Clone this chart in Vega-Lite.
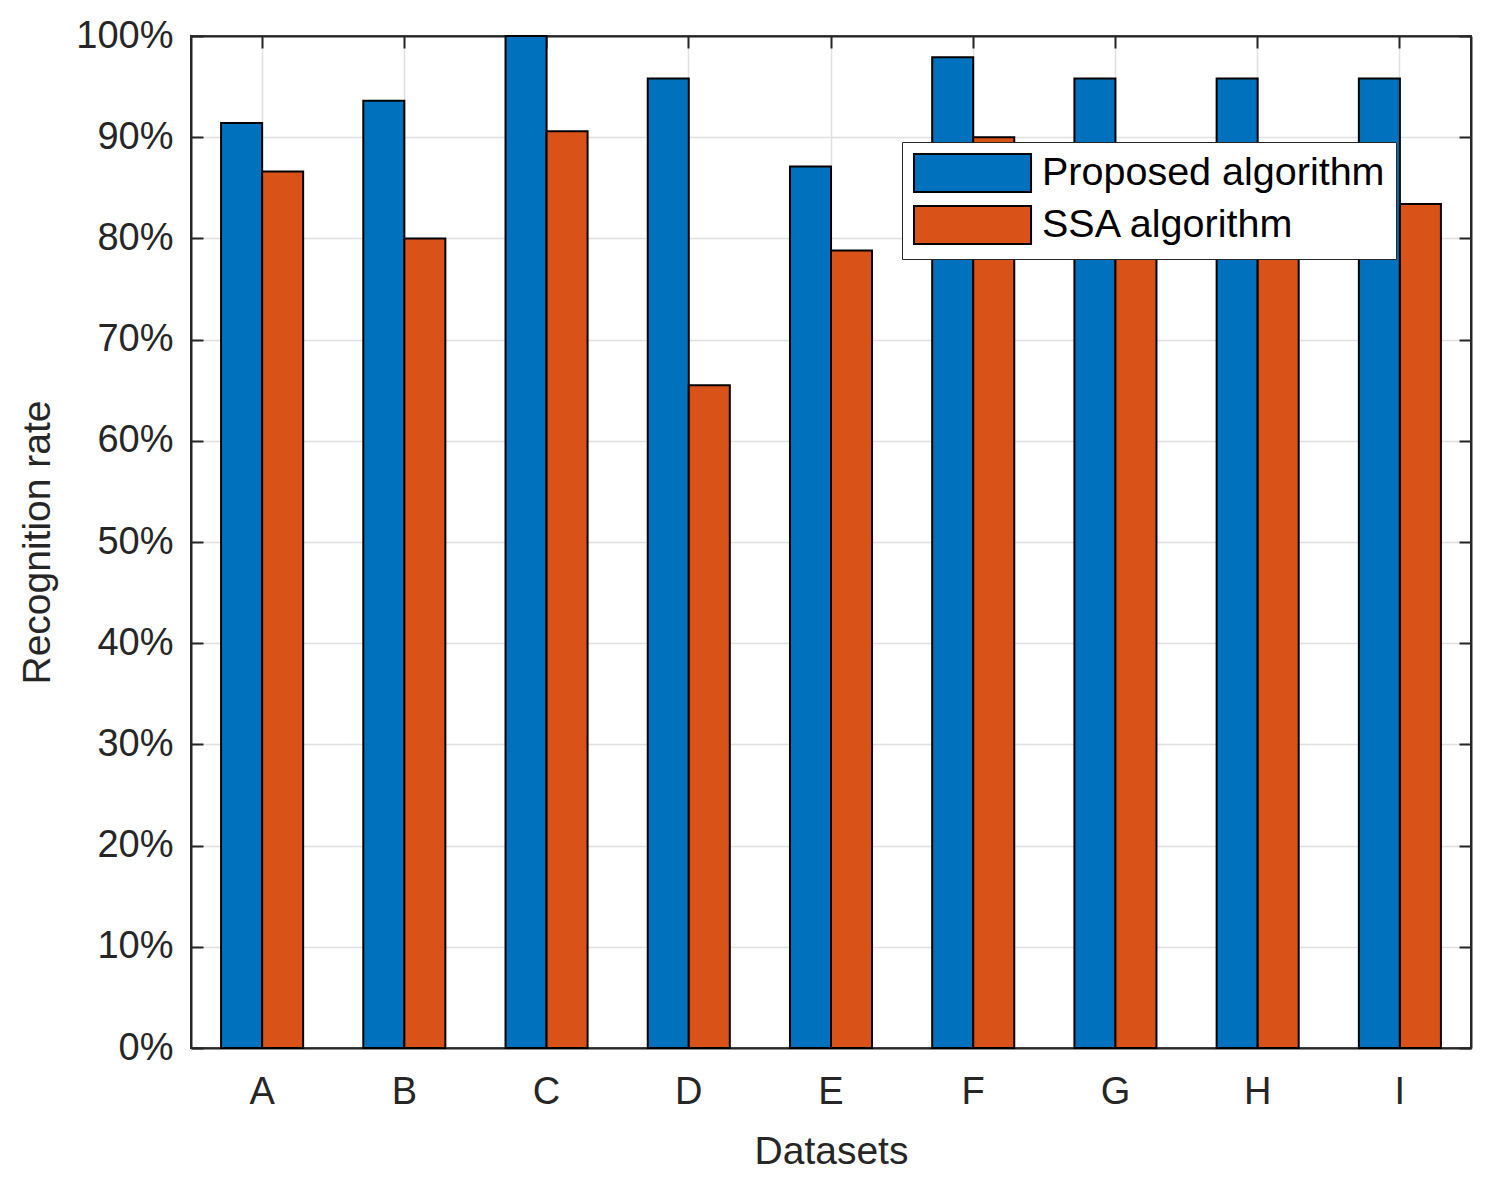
{
  "$schema": "https://vega.github.io/schema/vega-lite/v6.json",
  "width": 1280,
  "height": 1012,
  "autosize": "none",
  "padding": {"left": 191, "top": 36, "right": 23, "bottom": 139},
  "background": "white",
  "config": {
    "font": "Liberation Sans",
    "view": {"stroke": "#262626", "strokeWidth": 2},
    "axis": {"labelFont": "Liberation Sans", "titleFont": "Liberation Sans", "labelColor": "#262626", "titleColor": "#262626", "titleFontWeight": "normal", "domainColor": "#262626", "domainWidth": 2, "tickColor": "#262626", "tickWidth": 2}
  },
  "data": {"values": [
    {"dataset": "A", "algorithm": "Proposed algorithm", "rate": 0.914},
    {"dataset": "A", "algorithm": "SSA algorithm", "rate": 0.866},
    {"dataset": "B", "algorithm": "Proposed algorithm", "rate": 0.936},
    {"dataset": "B", "algorithm": "SSA algorithm", "rate": 0.800},
    {"dataset": "C", "algorithm": "Proposed algorithm", "rate": 1.000},
    {"dataset": "C", "algorithm": "SSA algorithm", "rate": 0.906},
    {"dataset": "D", "algorithm": "Proposed algorithm", "rate": 0.958},
    {"dataset": "D", "algorithm": "SSA algorithm", "rate": 0.655},
    {"dataset": "E", "algorithm": "Proposed algorithm", "rate": 0.871},
    {"dataset": "E", "algorithm": "SSA algorithm", "rate": 0.788},
    {"dataset": "F", "algorithm": "Proposed algorithm", "rate": 0.979},
    {"dataset": "F", "algorithm": "SSA algorithm", "rate": 0.900},
    {"dataset": "G", "algorithm": "Proposed algorithm", "rate": 0.958},
    {"dataset": "G", "algorithm": "SSA algorithm", "rate": 0.854},
    {"dataset": "H", "algorithm": "Proposed algorithm", "rate": 0.958},
    {"dataset": "H", "algorithm": "SSA algorithm", "rate": 0.833},
    {"dataset": "I", "algorithm": "Proposed algorithm", "rate": 0.958},
    {"dataset": "I", "algorithm": "SSA algorithm", "rate": 0.834}
  ]},
  "layer": [
    {
      "mark": {"type": "bar", "stroke": "black", "strokeWidth": 2, "opacity": 1},
      "encoding": {
        "x": {"field": "dataset", "type": "nominal",
              "scale": {"paddingInner": 0.423, "paddingOuter": 0.2115},
              "axis": {"orient": "bottom", "title": "Datasets", "labelAngle": 0, "labelFontSize": 38, "titleFontSize": 39,
                       "grid": true, "gridColor": "#e0e0e0", "gridWidth": 1.5, "bandPosition": 0.5,
                       "tickSize": -12, "labelPadding": 37, "titlePadding": 21}},
        "xOffset": {"field": "algorithm", "type": "nominal", "sort": ["Proposed algorithm", "SSA algorithm"]},
        "y": {"field": "rate", "type": "quantitative",
              "scale": {"domain": [0, 1], "nice": false},
              "axis": {"orient": "left", "title": "Recognition rate", "format": ".0%", "values": [0,0.1,0.2,0.3,0.4,0.5,0.6,0.7,0.8,0.9,1],
                       "labelFontSize": 38, "titleFontSize": 39, "grid": true, "gridColor": "#e0e0e0", "gridWidth": 1.5,
                       "tickSize": -12, "labelPadding": 30, "titlePadding": 18}},
        "color": {"field": "algorithm", "type": "nominal",
                  "scale": {"domain": ["Proposed algorithm", "SSA algorithm"], "range": ["#0072BD", "#D95319"]},
                  "legend": {"orient": "none", "legendX": 711, "legendY": 106, "title": null, "direction": "vertical",
                             "symbolType": "M-1,-1H5.16V1H-1Z", "symbolSize": 1444,
                             "symbolStrokeColor": "black", "symbolStrokeWidth": 2, "symbolOpacity": 1,
                             "labelFontSize": 39.5, "labelFont": "Liberation Sans", "labelColor": "black", "labelLimit": 600,
                             "labelOffset": 89, "rowPadding": 6, "padding": 11,
                             "strokeColor": "#262626", "fillColor": "white"}}
      }
    },
    {
      "mark": {"type": "bar", "opacity": 0},
      "encoding": {
        "x": {"field": "dataset", "type": "nominal",
              "axis": {"orient": "top", "title": null, "labels": false, "grid": false, "bandPosition": 0.5, "tickSize": -12}},
        "y": {"field": "rate", "type": "quantitative",
              "axis": {"orient": "right", "title": null, "labels": false, "grid": false, "values": [0,0.1,0.2,0.3,0.4,0.5,0.6,0.7,0.8,0.9,1], "tickSize": -12}}
      }
    }
  ],
  "resolve": {"axis": {"x": "independent", "y": "independent"}}
}
